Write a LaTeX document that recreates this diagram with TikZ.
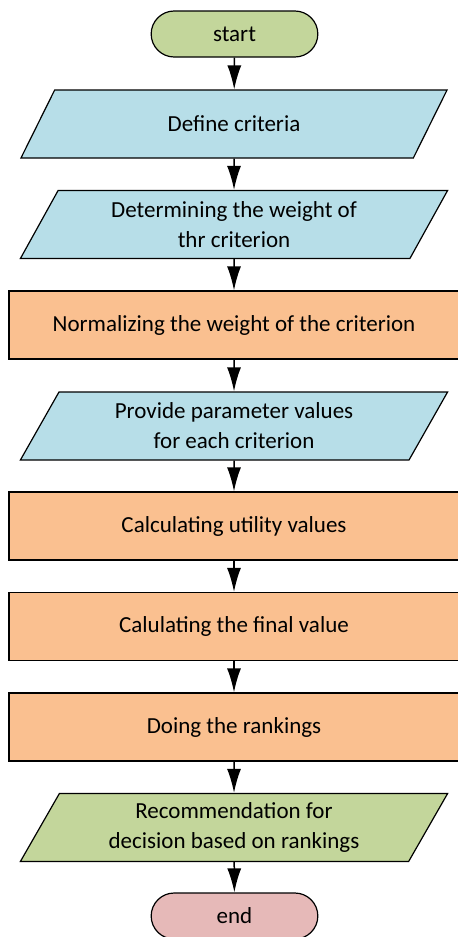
\documentclass[tikz,border=0pt]{standalone}
\usepackage{fontspec}
\setmainfont{Carlito}
\usetikzlibrary{shapes.geometric,shapes.misc,arrows.meta}
\definecolor{termgreen}{HTML}{C3D69B}
\definecolor{termred}{HTML}{E6B9B8}
\definecolor{ioblue}{HTML}{B7DEE8}
\definecolor{procorange}{HTML}{FAC090}
\tikzset{
  >={Latex[length=12pt,width=7pt]},
}
\tikzstyle{every node}=[font=\fontsize{11.5}{15}\selectfont,align=center]
\tikzstyle{terminal}=[draw,rounded rectangle,minimum width=90pt,minimum height=23pt,line width=0.6pt]
\tikzstyle{io}=[draw,trapezium,trapezium left angle=65,trapezium right angle=115,trapezium stretches=true,minimum width=214pt,minimum height=34pt,line width=0.6pt,fill=ioblue]
\tikzstyle{process}=[draw,rectangle,minimum width=225pt,minimum height=34pt,line width=0.6pt,fill=procorange]
\tikzstyle{arrow}=[line width=0.75pt,->]

\begin{document}
\begin{tikzpicture}[x=0.5pt,y=-0.5pt]
    \useasboundingbox (0,0) rectangle (457,937);
    \node[terminal,fill=termgreen] (start) at (234.5,34) {start};
    \node[io] (criteria) at (234,124) {Define criteria};
    \node[io] (weight) at (234,224.5) {Determining the weight of\\thr criterion};
    \node[process] (normal) at (234,325) {Normalizing the weight of the criterion};
    \node[io] (param) at (234,426) {Provide parameter values\\for each criterion};
    \node[process] (utility) at (234,526) {Calculating utility values};
    \node[process] (final) at (234,626.5) {Calulating the final value};
    \node[process] (rank) at (234,727) {Doing the rankings};
    \node[io,fill=termgreen] (recom) at (234,827.5) {Recommendation for\\decision based on rankings};
    \node[terminal,fill=termred] (end) at (234.5,916) {end};
    \draw[arrow] (start) -- (criteria);
    \draw[arrow] (criteria) -- (weight);
    \draw[arrow] (weight) -- (normal);
    \draw[arrow] (normal) -- (param);
    \draw[arrow] (param) -- (utility);
    \draw[arrow] (utility) -- (final);
    \draw[arrow] (final) -- (rank);
    \draw[arrow] (rank) -- (recom);
    \draw[arrow] (recom) -- (end);
  \end{tikzpicture}
\end{document}
